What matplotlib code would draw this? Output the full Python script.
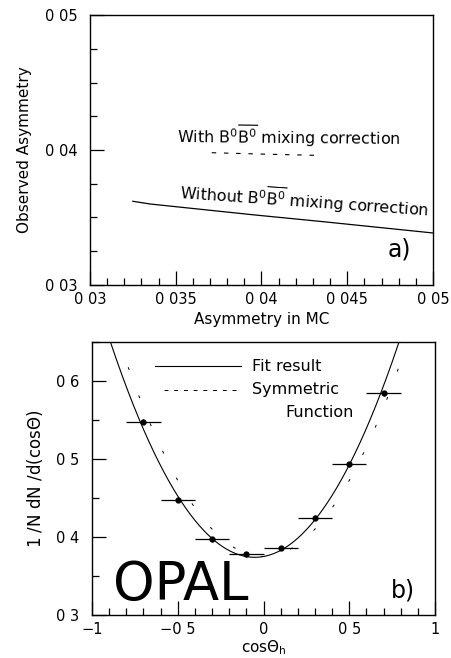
import numpy as np
import matplotlib
matplotlib.use("Agg")
import matplotlib.pyplot as plt
from matplotlib.ticker import MultipleLocator, FuncFormatter

plt.rcParams['font.family'] = ['DejaVu Sans']
plt.rcParams['mathtext.fontset'] = 'dejavusans'

# ---- panel a): observed vs generated asymmetry ----
mc_asym_nomix = [0.0325, 0.0335, 0.0395, 0.0435, 0.0500]
obs_asym_nomix = [0.0362, 0.0360, 0.0352, 0.0347, 0.03385]
mc_asym_mix = [0.0371, 0.0400, 0.0434]
obs_asym_mix = [0.0398, 0.0397, 0.0396]

# ---- panel b): angular distribution ----
cos_bins = [-0.7, -0.5, -0.3, -0.1, 0.1, 0.3, 0.5, 0.7]
dist_vals = [0.548, 0.448, 0.397, 0.378, 0.386, 0.425, 0.493, 0.584]
bin_half_width = [0.1] * 8
dist_errs = [0.003] * 8
# quadratic fit coefficients: a + b*x + c*x^2
fit_coef = [0.375, 0.040, 0.390]
# symmetric version: a + c*x^2
sym_coef = [0.375, 0.0, 0.390]


def fmt_tick(v, pos):
    s = ("%g" % round(v, 4))
    return s.replace("-", "\u2212").replace(".", " ")


fig = plt.figure(figsize=(4.52, 6.58), dpi=100)

# panel a
ax1 = fig.add_axes([0.199, 0.567, 0.759, 0.410])
ax1.plot(mc_asym_nomix, obs_asym_nomix, color='black', lw=0.9)
ax1.plot(mc_asym_mix, obs_asym_mix, color='black', lw=0.8, dashes=(4, 7))
ax1.set_xlim(0.03, 0.05)
ax1.set_ylim(0.03, 0.05)
ax1.xaxis.set_major_locator(MultipleLocator(0.005))
ax1.xaxis.set_minor_locator(MultipleLocator(0.001))
ax1.yaxis.set_major_locator(MultipleLocator(0.01))
ax1.yaxis.set_minor_locator(MultipleLocator(0.0025))
ax1.xaxis.set_major_formatter(FuncFormatter(fmt_tick))
ax1.yaxis.set_major_formatter(FuncFormatter(fmt_tick))
ax1.set_xlabel("Asymmetry in MC", fontsize=11, labelpad=4)
ax1.set_ylabel("Observed Asymmetry", fontsize=11, labelpad=9)
ax1.text(0.0351, 0.0400, r"With B$^0\overline{\mathrm{B}^0}$ mixing correction",
         fontsize=11.4, rotation=-0.5, ha='left', va='bottom')
ax1.text(0.0352, 0.0360, r"Without B$^0\overline{\mathrm{B}^0}$ mixing correction",
         fontsize=11.4, rotation=-4.0, ha='left', va='bottom', rotation_mode='anchor')
ax1.text(0.04735, 0.0326, "a)", fontsize=17, ha='left', va='center')

# panel b
ax2 = fig.add_axes([0.2035, 0.0653, 0.759, 0.415])
xs = np.linspace(-1, 1, 400)
ax2.plot(xs, fit_coef[0] + fit_coef[1] * xs + fit_coef[2] * xs ** 2,
         color='black', lw=0.8)
ax2.plot(xs, sym_coef[0] + sym_coef[1] * xs + sym_coef[2] * xs ** 2,
         color='black', lw=0.7, dashes=(3, 28))
ax2.errorbar(cos_bins, dist_vals, xerr=bin_half_width, yerr=dist_errs,
             fmt='o', ms=3.5, color='black', ecolor='black', elinewidth=0.9,
             capsize=0)
ax2.set_xlim(-1, 1)
ax2.set_ylim(0.3, 0.65)
ax2.xaxis.set_major_locator(MultipleLocator(0.5))
ax2.xaxis.set_minor_locator(MultipleLocator(0.1))
ax2.yaxis.set_major_locator(MultipleLocator(0.1))
ax2.yaxis.set_minor_locator(MultipleLocator(0.05))
ax2.xaxis.set_major_formatter(FuncFormatter(fmt_tick))
ax2.yaxis.set_major_formatter(FuncFormatter(fmt_tick))
ax2.set_xlabel(r"cos$\Theta_\mathrm{h}$", fontsize=11, labelpad=1)
ax2.set_ylabel(r"1 /N dN /d(cos$\Theta$)", fontsize=12, labelpad=8)

# legend drawn by hand
ax2.plot([-0.63, -0.13], [0.619, 0.619], color='black', lw=0.8)
ax2.text(-0.07, 0.619, "Fit result", fontsize=11.5, va='center', ha='left')
ax2.plot([-0.58, -0.13], [0.589, 0.589], color='black', lw=0.7, dashes=(4, 6))
ax2.text(-0.07, 0.589, "Symmetric", fontsize=11.5, va='center', ha='left')
ax2.text(0.13, 0.5595, "Function", fontsize=11.5, va='center', ha='left')

ax2.text(-0.88, 0.305, "OPAL", fontsize=38, ha='left', va='bottom')
ax2.text(0.74, 0.331, "b)", fontsize=17, ha='left', va='center')

for ax in (ax1, ax2):
    ax.tick_params(which='both', direction='in', top=False, right=False,
                   labelsize=10.5, width=0.9)
    ax.tick_params(which='major', length=10)
    ax.tick_params(which='minor', length=5)
    ax.tick_params(axis='y', pad=9)
    ax.tick_params(axis='x', pad=5)
    for s in ax.spines.values():
        s.set_linewidth(1.0)

fig.savefig("out.png", dpi=100)
